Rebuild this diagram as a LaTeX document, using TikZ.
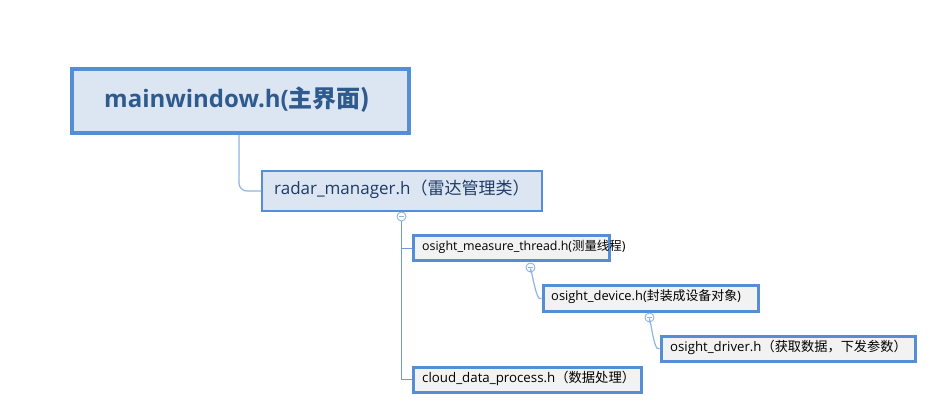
\documentclass[tikz,border=0pt]{standalone}
\usepackage{fontspec}
\setmainfont{Open Sans}
\newfontfamily\cjk{Noto Sans CJK SC}
\begin{document}
\begin{tikzpicture}[x=1pt,y=-1pt,
  bx/.style={draw=boxblue,rectangle,inner sep=0pt,anchor=north west},
  lbl/.style={anchor=west,inner sep=0pt},
  conn/.style={draw=lineblue,line width=1.2pt},
  collapse/.style={circle,draw=circblue,fill=white,line width=0.9pt,minimum size=9pt,inner sep=0pt,
    path picture={\draw[circblue,line width=0.9pt] ([xshift=-2.2pt]path picture bounding box.center) -- ([xshift=2.2pt]path picture bounding box.center);}}]
\definecolor{boxblue}{HTML}{558ED5}
\definecolor{lineblue}{HTML}{6F9BDB}
\definecolor{lightline}{HTML}{8EB4E3}
\definecolor{circblue}{HTML}{8EB4E3}
\definecolor{topfill}{HTML}{DCE6F2}
\definecolor{subfill}{HTML}{F2F2F2}
\definecolor{maintext}{HTML}{2F5A8E}
\definecolor{radtext}{HTML}{1F3B64}
\useasboundingbox (0,0) rectangle (944,419);
\fill[white] (0,0) rectangle (944,419);

\node[bx,fill=topfill,line width=4pt,minimum width=337pt,minimum height=64pt] (main) at (70,67) {};
\node[lbl,font=\fontsize{24}{27}\selectfont\bfseries,text=maintext] (mainl) at (104,100) {mainwindow.h(\cjk\bfseries 主界面)};

\node[bx,fill=topfill,line width=2pt,minimum width=280pt,minimum height=40pt] (radar) at (261,170) {};
\node[lbl,font=\fontsize{17}{20}\selectfont,text=radtext] (radarl) at (274,189) {radar\_manager.h{\cjk（雷达管理类）}};

\node[bx,fill=subfill,line width=3pt,minimum width=196pt,minimum height=25pt] (thread) at (411.5,234.5) {};
\node[lbl,font=\fontsize{12.4}{14}\selectfont] (threadl) at (422,247) {osight\_measure\_thread.h({\cjk 测量线程})};

\node[bx,fill=subfill,line width=3pt,minimum width=215pt,minimum height=25pt] (device) at (541.5,284.5) {};
\node[lbl,font=\fontsize{12.9}{14}\selectfont] (devicel) at (551,297) {osight\_device.h({\cjk 封装成设备对象})};

\node[bx,fill=subfill,line width=3pt,minimum width=254pt,minimum height=25pt] (driver) at (659.5,334.5) {};
\node[lbl,font=\fontsize{13.2}{14}\selectfont] (driverl) at (670,347) {osight\_driver.h{\cjk（获取数据，下发参数）}};

\node[bx,fill=subfill,line width=3pt,minimum width=228pt,minimum height=25pt] (cloud) at (411.5,365.5) {};
\node[lbl,font=\fontsize{13.3}{14}\selectfont] (cloudl) at (422,378) {cloud\_data\_process.h{\cjk（数据处理）}};

\draw[draw=lightline,line width=1.2pt,rounded corners=8pt] ([xshift=169pt]main.south west) |- (radar.west);

\node[collapse] (c1) at (401.5,216.5) {};
\node[collapse] (c2) at (530.5,267.5) {};
\node[collapse] (c3) at (649.5,317.5) {};

\draw[conn] (c1.south) |- (thread.west);
\draw[conn] (c1.south) |- (cloud.west);
\draw[draw=lightline,line width=1.2pt] (c2.south) .. controls +(0,-14) and +(-6,6) .. (device.west);
\draw[draw=lightline,line width=1.2pt] (c3.south) .. controls +(0,-14) and +(-6,6) .. (driver.west);
\end{tikzpicture}
\end{document}
